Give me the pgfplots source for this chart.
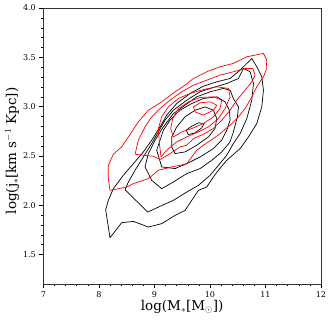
\documentclass[border=0pt]{standalone}
\usepackage{fontspec}
\setmainfont{DejaVu Serif}
\usepackage{pgfplots}
\pgfplotsset{compat=1.18}

\begin{document}
\begin{tikzpicture}
\begin{axis}[
    scale only axis,
    width=277.7pt, height=276pt,
    xmin=7, xmax=12, ymin=1.2, ymax=4.0,
    xtick={7,8,9,10,11,12},
    ytick={1.5,2.0,2.5,3.0,3.5,4.0},
    /pgf/number format/assume math mode=true,
    yticklabel style={/pgf/number format/.cd,fixed,fixed zerofill,precision=1},
    minor tick num=4,
    tick align=outside,
    xtick pos=bottom, ytick pos=left,
    major tick length=4pt, minor tick length=2pt,
    tick style={black, line width=0.4pt},
    axis line style={black!80, line width=0.5pt},
    ticklabel style={font=\fontsize{8}{9}\selectfont},
    xlabel={log(M$_*$[M$_\odot$])},
    ylabel={log(j$_*$[km s$^{-1}$ Kpc])},
    label style={font=\fontsize{13.5}{16}\selectfont},
    xlabel style={yshift=4pt},
    ylabel style={yshift=-3pt, xshift=-5pt},
    every axis plot/.append style={line width=0.7pt},
]
% black contours (outer to inner)
\addplot[black] coordinates {
 (8.201,1.669) (8.411,1.822) (8.622,1.835) (8.892,1.778) (9.132,1.812)
 (9.372,1.896) (9.553,1.947) (9.673,2.049) (9.793,2.150) (9.943,2.184)
 (10.063,2.286) (10.153,2.354) (10.303,2.455) (10.544,2.574) (10.694,2.692)
 (10.844,2.828) (10.934,2.997) (10.964,3.167) (10.934,3.302) (10.844,3.404)
 (10.754,3.488) (10.544,3.370) (10.363,3.285) (10.123,3.251) (9.883,3.207)
 (9.643,3.133) (9.402,3.031) (9.222,2.913) (9.102,2.794) (8.952,2.659)
 (8.802,2.540) (8.622,2.421) (8.441,2.303) (8.261,2.167) (8.171,2.049)
 (8.123,1.954) (8.201,1.669)};
\addplot[black] coordinates {
 (8.471,2.157) (8.880,1.930) (9.102,1.988) (9.342,2.049) (9.583,2.133)
 (9.793,2.201) (10.003,2.303) (10.153,2.404) (10.303,2.506) (10.423,2.625)
 (10.544,2.726) (10.664,2.879) (10.754,3.065) (10.784,3.234) (10.724,3.353)
 (10.604,3.387) (10.514,3.285) (10.303,3.234) (10.063,3.194) (9.823,3.150)
 (9.583,3.065) (9.342,2.963) (9.192,2.862) (9.072,2.743) (8.952,2.625)
 (8.802,2.489) (8.652,2.354) (8.532,2.235) (8.471,2.157)};
\addplot[black] coordinates {
 (8.832,2.388) (8.952,2.252) (9.132,2.167) (9.342,2.235) (9.583,2.320)
 (9.823,2.371) (10.033,2.455) (10.213,2.540) (10.363,2.642) (10.423,2.743)
 (10.495,2.896) (10.514,2.997) (10.423,3.082) (10.363,3.167) (10.243,3.184)
 (10.003,3.150) (9.763,3.099) (9.553,3.014) (9.342,2.929) (9.162,2.794)
 (9.012,2.659) (8.892,2.523) (8.832,2.388)};
\addplot[black] coordinates {
 (9.042,2.557) (9.132,2.388) (9.372,2.371) (9.583,2.421) (9.823,2.489)
 (10.063,2.574) (10.213,2.659) (10.303,2.760) (10.363,2.862) (10.351,2.963)
 (10.273,3.048) (10.123,3.099) (9.883,3.082) (9.673,3.031) (9.462,2.963)
 (9.282,2.862) (9.162,2.760) (9.042,2.557)};
\addplot[black] coordinates {
 (9.312,2.591) (9.372,2.523) (9.553,2.540) (9.763,2.608) (9.973,2.692)
 (10.093,2.777) (10.123,2.879) (10.063,2.963) (9.913,2.997) (9.733,2.963)
 (9.553,2.896) (9.402,2.794) (9.312,2.692) (9.312,2.591)};
\addplot[black] coordinates {
 (9.571,2.760) (9.613,2.716) (9.733,2.733) (9.853,2.784) (9.895,2.828)
 (9.793,2.835) (9.673,2.801) (9.571,2.760)};
% red contours (outer to inner)
\addplot[red] coordinates {
 (8.201,2.150) (8.502,2.184) (8.622,2.218) (8.892,2.269) (9.072,2.354)
 (9.312,2.388) (9.462,2.404) (9.583,2.421) (9.673,2.489) (9.763,2.557)
 (9.883,2.608) (10.063,2.675) (10.183,2.726) (10.363,2.811) (10.514,2.896)
 (10.634,2.980) (10.754,3.099) (10.844,3.201) (10.964,3.302) (11.012,3.370)
 (11.024,3.472) (10.964,3.539) (10.664,3.505) (10.423,3.438) (10.183,3.404)
 (9.943,3.353) (9.703,3.285) (9.553,3.217) (9.372,3.150) (9.132,3.048)
 (8.892,2.963) (8.712,2.845) (8.532,2.692) (8.411,2.591) (8.261,2.516)
 (8.171,2.404) (8.171,2.269) (8.201,2.150)};
\addplot[red] coordinates {
 (8.652,2.516) (8.982,2.496) (9.102,2.462) (9.282,2.523) (9.462,2.591)
 (9.583,2.608) (9.703,2.675) (9.883,2.720) (10.063,2.777) (10.213,2.862)
 (10.363,2.963) (10.483,3.065) (10.634,3.167) (10.754,3.251) (10.814,3.319)
 (10.772,3.387) (10.634,3.387) (10.423,3.353) (10.183,3.319) (9.943,3.268)
 (9.703,3.217) (9.492,3.150) (9.282,3.065) (9.102,2.980) (8.952,2.896)
 (8.832,2.794) (8.712,2.659) (8.652,2.516)};
\addplot[red] coordinates {
 (9.120,2.489) (9.222,2.557) (9.402,2.642) (9.583,2.692) (9.793,2.743)
 (9.973,2.794) (10.153,2.879) (10.273,2.980) (10.363,3.099) (10.333,3.184)
 (10.123,3.201) (9.883,3.173) (9.643,3.133) (9.432,3.082) (9.252,2.997)
 (9.132,2.896) (9.072,2.777) (9.090,2.625) (9.120,2.489)};
\addplot[red] coordinates {
 (9.342,2.692) (9.492,2.743) (9.673,2.777) (9.883,2.828) (10.063,2.896)
 (10.183,2.980) (10.213,3.065) (10.063,3.099) (9.823,3.092) (9.613,3.048)
 (9.432,2.980) (9.330,2.879) (9.294,2.777) (9.342,2.692)};
\addplot[red] coordinates {
 (9.703,2.997) (9.823,3.038) (10.003,3.048) (10.123,3.014) (10.063,2.963)
 (9.883,2.913) (9.733,2.946) (9.703,2.997)};
\end{axis}
\pgfresetboundingbox
\path[use as bounding box] (-43.3pt,-38pt) rectangle (288.7pt,284pt);
\end{tikzpicture}
\end{document}
